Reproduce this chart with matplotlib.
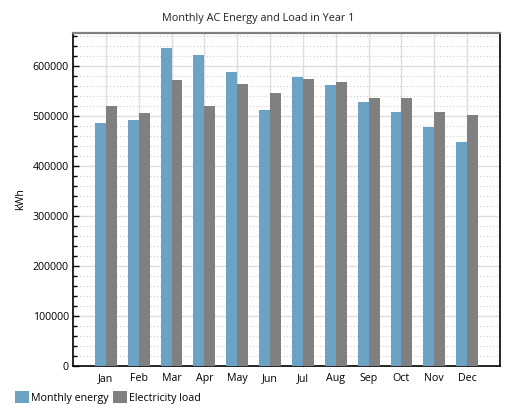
import matplotlib
matplotlib.use('Agg')
import matplotlib.pyplot as plt
import numpy as np
from matplotlib.ticker import MultipleLocator

plt.rcParams['font.family'] = ['Open Sans', 'DejaVu Sans']

# data
months = ['Jan', 'Feb', 'Mar', 'Apr', 'May', 'Jun',
          'Jul', 'Aug', 'Sep', 'Oct', 'Nov', 'Dec']
monthly_energy = [486000, 492000, 636000, 622000, 588000, 512000,
                  578000, 562000, 528000, 508000, 478000, 448000]
electricity_load = [520000, 506000, 572000, 520000, 564000, 546000,
                    574000, 568000, 536000, 536000, 508000, 502000]

blue = '#6ca3c5'
grey = '#808080'

fig = plt.figure(figsize=(5.16, 4.16), dpi=100)
ax = fig.add_axes([73 / 516, 1 - 366 / 416, 427 / 516, 333 / 416])

x = np.arange(len(months))
w = 1 / 3
ax.bar(x - w / 2, monthly_energy, w, color=blue, label='Monthly energy', zorder=3)
ax.bar(x + w / 2, electricity_load, w, color=grey, label='Electricity load', zorder=3)

ax.set_xlim(-1, 12)
ax.set_ylim(0, 666000)
ax.set_xticks(x)
ax.set_xticklabels(months)
ax.yaxis.set_major_locator(MultipleLocator(100000))
ax.yaxis.set_minor_locator(MultipleLocator(20000))

# grids: solid major, dotted minor
ax.grid(True, which='major', axis='both', color='#dedede', lw=1.0, zorder=0)
ax.grid(True, which='minor', axis='y', color='#cfcfcf', lw=0.8, ls=(0, (1, 2)), zorder=0)
ax.set_axisbelow(True)

ax.tick_params(axis='both', which='major', direction='in', length=4, width=1,
               labelsize=7.7, colors='black', pad=3)
ax.tick_params(axis='y', which='minor', direction='in', length=3, width=1)
ax.tick_params(axis='x', which='major', pad=5)

for s in ['left', 'bottom', 'right']:
    ax.spines[s].set_color('black')
    ax.spines[s].set_linewidth(1.2)
ax.spines['top'].set_color('#808080')
ax.spines['top'].set_linewidth(1.6)

ax.set_ylabel('kWh', fontsize=7.7, labelpad=5)
fig.text(0.5, 1 - 19 / 416, 'Monthly AC Energy and Load in Year 1', fontsize=7.8,
         ha='center', va='center', color='#222222')

fig.legend(loc='lower left', bbox_to_anchor=(0.015, 0.012), ncol=2, frameon=False,
           fontsize=7.7, handlelength=1.3, handleheight=1.3, handletextpad=0.2,
           columnspacing=0.4, borderaxespad=0.3)

fig.savefig('out.png', dpi=100)
